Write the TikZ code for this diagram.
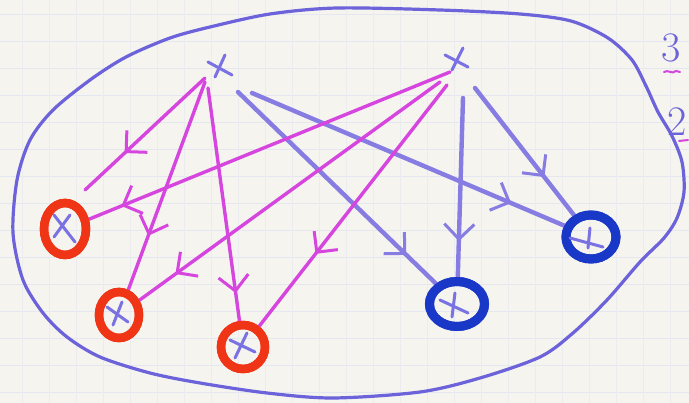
\documentclass[tikz,border=0pt]{standalone}
\usetikzlibrary{shapes.geometric,arrows.meta,decorations.markings}
\definecolor{paper}{RGB}{245,244,239}
\definecolor{gridc}{RGB}{229,231,240}
\definecolor{outc}{RGB}{108,98,218}
\definecolor{magc}{RGB}{214,70,222}
\definecolor{lbc}{RGB}{134,124,226}
\definecolor{redc}{RGB}{240,52,22}
\definecolor{dbc}{RGB}{26,56,200}
\definecolor{crossc}{RGB}{122,114,226}
\tikzset{
  outline/.style={draw=outc, line width=3.2pt, line join=round},
  magline/.style={draw=magc, line width=3.4pt, line cap=round},
  blueline/.style={draw=lbc, line width=4.4pt, line cap=round},
  midtip/.style={postaction={decorate}, decoration={markings,
      mark=at position #1 with {\arrow{Straight Barb[length=15pt,width=30pt,line width=3pt]}}}},
  redring/.style={ellipse, draw=redc, line width=8.5pt, inner sep=0pt},
  bluering/.style={ellipse, draw=dbc, line width=9pt, inner sep=0pt},
  crossline/.style={draw=crossc, line width=3pt, line cap=round},
  topx/.style={draw=none, inner sep=0pt, minimum size=2pt},
  digit/.style={text=outc, font=\fontsize{42}{42}\selectfont, inner sep=0pt},
}
\begin{document}
\begin{tikzpicture}[x=1pt,y=-1pt]
\useasboundingbox (0,0) rectangle (689,403);
\clip (0,0) rectangle (689,403);
\fill[paper] (0,0) rectangle (689,403);
\foreach \yy in {14,41,...,403} \draw[gridc, line width=0.7pt] (0,\yy) -- (689,\yy);
\foreach \xx in {22,49,...,689} \draw[gridc!60!paper, line width=0.5pt] (\xx,0) -- (\xx,403);

% outline
\draw[outline] plot[smooth cycle, tension=0.5] coordinates {
 (13,233) (17,180) (30,140) (53,110) (90,80) (126,57) (170,38) (210,27)
 (270,14) (337,8) (440,10) (520,14) (571,21) (608,38) (632,60) (646,86)
 (658,112) (672,136) (682,162) (684,192) (677,218) (664,238) (640,262)
 (607,300) (573,333) (540,357) (480,378) (420,392) (333,398) (267,393)
 (200,383) (150,373) (100,357) (67,337) (43,313) (23,280)};

% nodes
\node[topx] (xL) at (220,66) {};
\node[topx] (xR) at (457,60) {};
\node[redring, minimum width=42pt, minimum height=52pt] (r1) at (65,229) {};
\node[redring, minimum width=40pt, minimum height=46pt] (r2) at (119,315) {};
\node[redring, minimum width=44pt, minimum height=44pt] (r3) at (243,347) {};
\node[bluering, minimum width=55pt, minimum height=45pt] (b1) at (457,304) {};
\node[bluering, minimum width=50pt, minimum height=44pt] (b2) at (591,237) {};

% connector start points (free ends)
\coordinate (s1) at (205,78);
\coordinate (e1) at (85,190);
\coordinate (s2) at (205,82);
\coordinate (s3) at (208,88);
\coordinate (s4) at (450,72);
\coordinate (s5) at (440,82);
\coordinate (s6) at (447,85);
\coordinate (s7) at (238,92);
\coordinate (s8) at (252,93);
\coordinate (s9) at (463,98);
\coordinate (s10) at (475,88);

% blue connectors
\draw[blueline, midtip=0.85] (s7) -- (b1);
\draw[blueline, midtip=0.83] (s8) -- (b2);
\draw[blueline, midtip=0.80] (s9) -- (b1);
\draw[blueline, midtip=0.70] (s10) -- (b2);

% magenta connectors
\draw[magline, midtip=0.67] (s1) -- (e1);
\draw[magline, midtip=0.74] (s2) -- (r2);
\draw[magline, midtip=0.88] (s3) -- (r3);
\draw[magline, midtip=0.91] (s4) -- (r1);
\draw[magline, midtip=0.88] (s5) -- (r2);
\draw[magline, midtip=0.70] (s6) -- (r3);

% redraw rings over line ends
\node[redring, minimum width=42pt, minimum height=52pt] at (r1) {};
\node[redring, minimum width=40pt, minimum height=46pt] at (r2) {};
\node[redring, minimum width=44pt, minimum height=44pt] at (r3) {};
\node[bluering, minimum width=55pt, minimum height=45pt] at (b1) {};
\node[bluering, minimum width=50pt, minimum height=44pt] at (b2) {};

% crosses
\draw[crossline] ([shift={(-12,-4)}]xL.center) -- ([shift={(12,9)}]xL.center);
\draw[crossline] ([shift={(5,-11)}]xL.center) -- ([shift={(-5,11)}]xL.center);
\draw[crossline] ([shift={(-12,-5)}]xR.center) -- ([shift={(11,7)}]xR.center);
\draw[crossline] ([shift={(6,-12)}]xR.center) -- ([shift={(-5,10)}]xR.center);
\draw[crossline] ([shift={(-11,-14)}]r1.center) -- ([shift={(10,13)}]r1.center);
\draw[crossline] ([shift={(5,-14)}]r1.center) -- ([shift={(-11,8)}]r1.center);
\draw[crossline] ([shift={(-12,-8)}]r2.center) -- ([shift={(9,7)}]r2.center);
\draw[crossline] ([shift={(3,-13)}]r2.center) -- ([shift={(-6,10)}]r2.center);
\draw[crossline] ([shift={(-13,-7)}]r3.center) -- ([shift={(12,5)}]r3.center);
\draw[crossline] ([shift={(4,-14)}]r3.center) -- ([shift={(-8,11)}]r3.center);
\draw[crossline] ([shift={(-17,-4)}]b1.center) -- ([shift={(11,9)}]b1.center);
\draw[crossline] ([shift={(-2,-11)}]b1.center) -- ([shift={(-5,13)}]b1.center);
\draw[crossline] ([shift={(-21,1)}]b2.center) -- ([shift={(12,10)}]b2.center);
\draw[crossline] ([shift={(-1,-9)}]b2.center) -- ([shift={(-3,11)}]b2.center);

% side digits
\node[digit] (t3) at (671,48) {3};
\node[digit] (t2) at (677,122) {2};
\draw[magc, line width=2pt, line cap=round] (664,72) .. controls (668,69) and (672,75) .. (676,71) -- (680,72);
\draw[magc, line width=2pt, line cap=round] (679,141) -- (688,140);
\end{tikzpicture}
\end{document}
